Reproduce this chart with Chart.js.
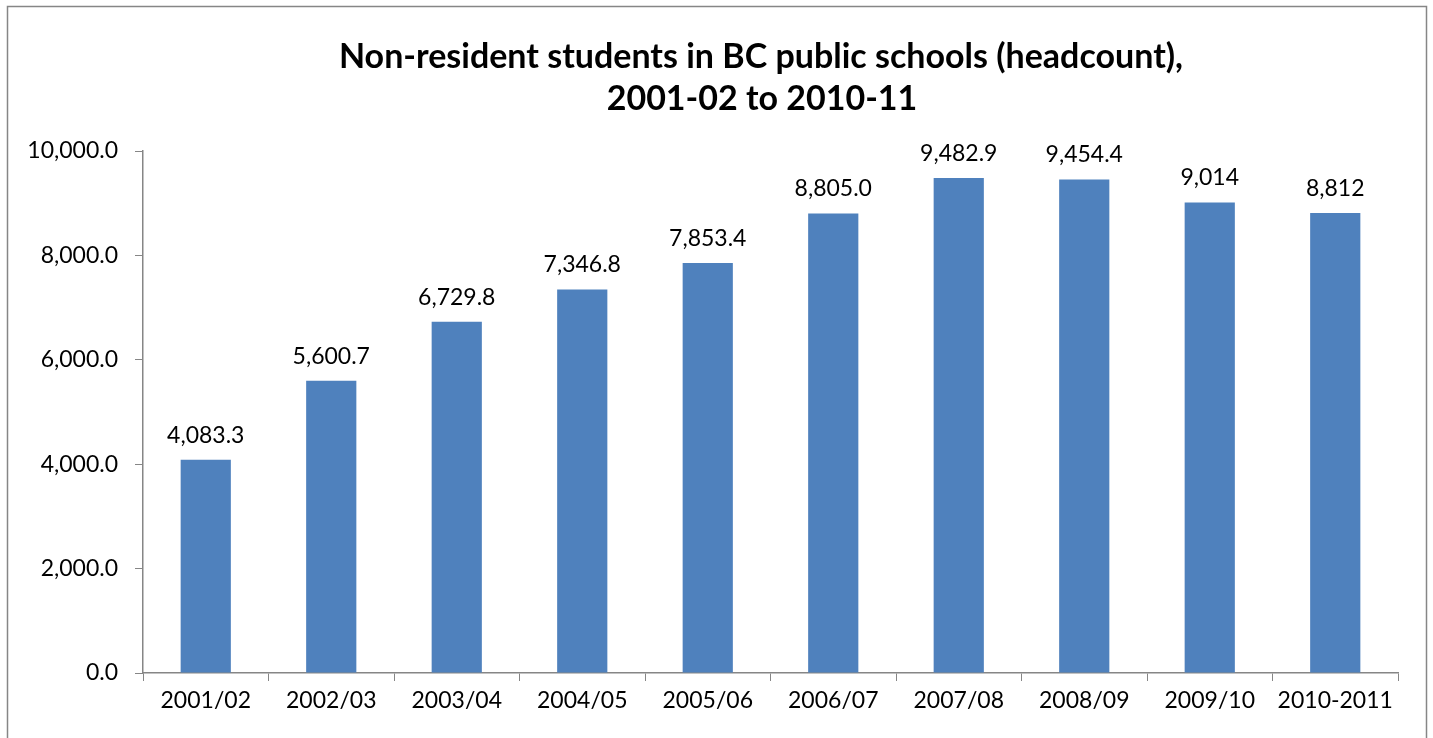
<!DOCTYPE html>
<html>
<head>
<meta charset="utf-8">
<script src="https://cdn.jsdelivr.net/npm/chart.js@4.4.0/dist/chart.umd.min.js"></script>
<style>
  html, body { margin: 0; padding: 0; background: #fff; overflow: hidden; }
  #chart { position: absolute; left: 0; top: 0; }
</style>
</head>
<body>
<canvas id="chart" width="1433" height="738"></canvas>
<script>
const years = ["2001/02", "2002/03", "2003/04", "2004/05", "2005/06", "2006/07", "2007/08", "2008/09", "2009/10", "2010-2011"];
const students = [4083.3, 5600.7, 6729.8, 7346.8, 7853.4, 8805.0, 9482.9, 9454.4, 9014, 8812];
const valueLabels = ["4,083.3", "5,600.7", "6,729.8", "7,346.8", "7,853.4", "8,805.0", "9,482.9", "9,454.4", "9,014", "8,812"];
const titleLines = ["Non-resident students in BC public schools (headcount),", "2001-02 to 2010-11"];

const axisGrey = "#868686";
const font = "Lato";

// frame round the chart (open at the bottom, like the original) and the title
const framePlugin = {
    id: "frame",
    beforeDraw(chart) {
        const ctx = chart.ctx;
        ctx.save();
        ctx.strokeStyle = axisGrey;
        ctx.lineWidth = 1.5;
        ctx.beginPath();
        ctx.moveTo(7.5, 760);
        ctx.lineTo(7.5, 6.5);
        ctx.lineTo(1426.5, 6.5);
        ctx.lineTo(1426.5, 760);
        ctx.stroke();

        ctx.fillStyle = "#000";
        ctx.font = "bold 34px " + font;
        ctx.textAlign = "center";
        ctx.textBaseline = "alphabetic";
        ctx.fillText(titleLines[0], 761, 68);
        ctx.fillText(titleLines[1], 762, 110);
        ctx.restore();
    }
};

const valueLabelPlugin = {
    id: "valueLabels",
    afterDatasetsDraw(chart) {
        const ctx = chart.ctx;
        const meta = chart.getDatasetMeta(0);
        ctx.save();
        ctx.fillStyle = "#000";
        ctx.font = "23px " + font;
        ctx.textAlign = "center";
        ctx.textBaseline = "bottom";
        meta.data.forEach((bar, i) => {
            ctx.fillText(valueLabels[i], bar.x, bar.y - 13);
        });
        ctx.restore();
    }
};

new Chart(document.getElementById("chart"), {
    type: "bar",
    data: {
        labels: years,
        datasets: [{
            data: students,
            backgroundColor: "#4F81BD",
            borderWidth: 0,
            categoryPercentage: 1,
            barPercentage: 0.4
        }]
    },
    options: {
        responsive: false,
        animation: false,
        devicePixelRatio: 1,
        layout: { padding: { left: 0, right: 35, top: 151, bottom: 0 } },
        plugins: {
            legend: { display: false },
            tooltip: { enabled: false },
            title: { display: false }
        },
        scales: {
            x: {
                grid: { offset: true, drawOnChartArea: false, drawTicks: true, tickLength: 8, color: axisGrey },
                border: { color: axisGrey, width: 1.5 },
                ticks: { color: "#000", font: { family: font, size: 23 }, padding: 6, maxRotation: 0 },
                afterFit(scale) { scale.height = 65; }
            },
            y: {
                min: 0,
                max: 10000,
                grid: { drawOnChartArea: false, drawTicks: true, tickLength: 8, color: axisGrey },
                border: { color: axisGrey, width: 1.5 },
                ticks: {
                    stepSize: 2000,
                    color: "#000",
                    font: { family: font, size: 23 },
                    padding: 17,
                    callback: v => v.toLocaleString("en-US", { minimumFractionDigits: 1, maximumFractionDigits: 1 })
                },
                afterFit(scale) { scale.width = 143; }
            }
        }
    },
    plugins: [framePlugin, valueLabelPlugin]
});
</script>
</body>
</html>
